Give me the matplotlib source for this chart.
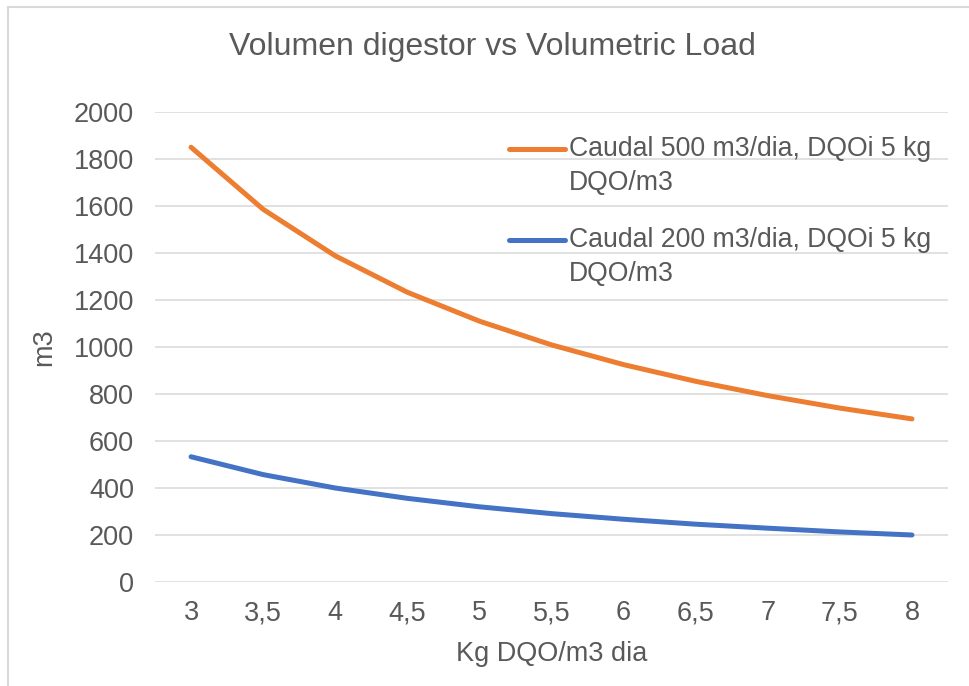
import matplotlib.pyplot as plt
from matplotlib.lines import Line2D

plt.rcParams['font.family'] = ['Liberation Sans', 'DejaVu Sans']

cargas = ["3", "3,5", "4", "4,5", "5", "5,5", "6", "6,5", "7", "7,5", "8"]
vol_500 = [1850, 1586, 1388, 1233, 1110, 1009, 925, 854, 793, 740, 694]
vol_200 = [533, 457, 400, 356, 320, 291, 267, 246, 229, 213, 200]
series = [
    (vol_500, "#ED7D31", ["Caudal 500 m3/dia, DQOi 5 kg", "DQO/m3"]),
    (vol_200, "#4472C4", ["Caudal 200 m3/dia, DQOi 5 kg", "DQO/m3"]),
]

gris = "#595959"
W, H = 970, 686

fig = plt.figure(figsize=(9.7, 6.86), dpi=100)
ax = fig.add_axes([155 / W, 1 - 582 / H, (948 - 155) / W, (582 - 112) / H])

x = list(range(len(cargas)))
for vals, col, _ in series:
    ax.plot(x, vals, color=col, lw=3.6, solid_capstyle="round")

ax.set_xlim(-0.5, len(cargas) - 0.5)
ax.set_ylim(0, 2000)
ax.set_yticks(range(0, 2001, 200))
ax.set_xticks(x)
ax.set_xticklabels(cargas)
ax.grid(axis="y", color="#D9D9D9", lw=1.1)
ax.set_axisbelow(True)
for s in ax.spines.values():
    s.set_visible(False)
ax.tick_params(length=0, labelsize=19.5, colors=gris, pad=15)
ax.tick_params(axis="x", pad=13)

ax.set_xlabel("Kg DQO/m3 dia", fontsize=19.5, color=gris, labelpad=11)
ax.set_ylabel("m3", fontsize=19.5, color=gris, labelpad=12)

fig.text(492 / W, 1 - 47 / H, "Volumen digestor vs Volumetric Load",
         ha="center", va="center", fontsize=23, color=gris)

# leyenda a mano: linea alineada con la primera linea del texto
for (vals, col, lineas), y0 in zip(series, [149, 240]):
    fig.add_artist(Line2D([509 / W, 565 / W], [1 - y0 / H, 1 - y0 / H],
                          color=col, lw=3.6, solid_capstyle="round"))
    for i, t in enumerate(lineas):
        fig.text(569 / W, 1 - (y0 + 34 * i) / H, t, ha="left", va="center",
                 fontsize=19.2, color=gris)

# marco del grafico
fig.add_artist(Line2D([8 / W, 8 / W], [0, 1 - 7 / H], color="#D9D9D9", lw=1.5))
fig.add_artist(Line2D([8 / W, 1], [1 - 7 / H, 1 - 7 / H], color="#D9D9D9", lw=1.5))

plt.savefig("out.png", dpi=100)
